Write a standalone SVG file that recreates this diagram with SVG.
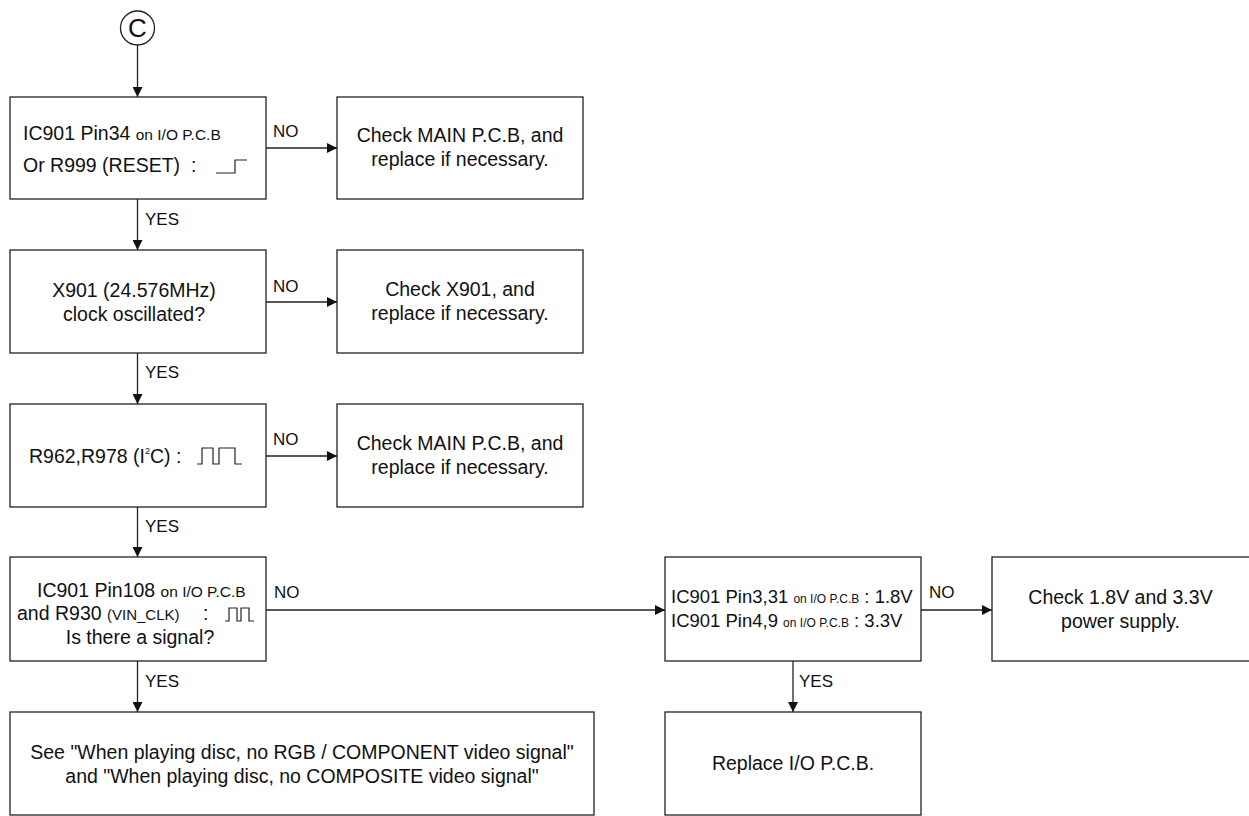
<svg xmlns="http://www.w3.org/2000/svg" width="1249" height="816" viewBox="0 0 1249 816">
<defs>
<marker id="ah" viewBox="0 0 10 10" refX="10" refY="5" markerWidth="10" markerHeight="10" markerUnits="userSpaceOnUse" orient="auto">
<path d="M0,0 L10,5 L0,10 z" fill="#111"/>
</marker>
<style>
.box{fill:#fff;stroke:#222;stroke-width:1.3}
.ln{fill:none;stroke:#222;stroke-width:1.3}
.wf{fill:none;stroke:#222;stroke-width:1.2}
text{font-family:"Liberation Sans",Arial,Helvetica,sans-serif;fill:#111}
.t{font-size:19.5px}
.tm{font-size:19.5px;text-anchor:middle}
.s{font-size:15.5px}
.lab{font-size:17px}
</style>
</defs>
<rect width="1249" height="816" fill="#fff"/>

<g id="start">
<circle cx="137.5" cy="28" r="17" class="ln"/>
<text x="137.5" y="37" font-size="26" text-anchor="middle">C</text>
</g>

<g id="n1">
<rect x="10" y="97" width="256" height="102" class="box"/>
<text x="23" y="140" class="t">IC901 Pin34 <tspan class="s">on I/O P.C.B</tspan></text>
<text x="23" y="172" class="t">Or R999 (RESET) <tspan x="191">:</tspan></text>
<path d="M216 173 H235 V160 H247" class="wf"/>
</g>
<g id="r1">
<rect x="337" y="97" width="246" height="102" class="box"/>
<text x="460" y="142" class="tm">Check MAIN P.C.B, and</text>
<text x="460" y="166" class="tm">replace if necessary.</text>
</g>

<g id="n2">
<rect x="10" y="250" width="256" height="103" class="box"/>
<text x="134" y="297" class="tm">X901 (24.576MHz)</text>
<text x="134" y="321" class="tm">clock oscillated?</text>
</g>
<g id="r2">
<rect x="337" y="250" width="246" height="103" class="box"/>
<text x="460" y="296" class="tm">Check X901, and</text>
<text x="460" y="320" class="tm">replace if necessary.</text>
</g>

<g id="n3">
<rect x="10" y="404" width="256" height="103" class="box"/>
<text x="29" y="463" class="t">R962,R978 (I<tspan font-size="9" dy="-9">2</tspan><tspan dy="9">C) :</tspan></text>
<path d="M197 464 H202 V448 H213 V464 H219 V448 H235 V464 H242" class="wf"/>
</g>
<g id="r3">
<rect x="337" y="404" width="246" height="103" class="box"/>
<text x="460" y="450" class="tm">Check MAIN P.C.B, and</text>
<text x="460" y="474" class="tm">replace if necessary.</text>
</g>

<g id="n4">
<rect x="10" y="557" width="256" height="104" class="box"/>
<text x="37" y="597" class="t">IC901 Pin108 <tspan class="s">on I/O P.C.B</tspan></text>
<text x="17" y="620" class="t">and R930 <tspan font-size="15px">(VIN_CLK)</tspan><tspan x="203">:</tspan></text>
<path d="M225 621 H229 V608 H237 V621 H241 V608 H249 V621 H254" class="wf"/>
<text x="140" y="644" class="tm">Is there a signal?</text>
</g>

<g id="n4a">
<rect x="665" y="557" width="256" height="104" class="box"/>
<text x="671" y="603" font-size="18.5">IC901 Pin3,31 <tspan font-size="12">on I/O P.C.B</tspan> : 1.8V</text>
<text x="671" y="627" font-size="18.5">IC901 Pin4,9 <tspan font-size="12">on I/O P.C.B</tspan> : 3.3V</text>
</g>

<g id="n4b">
<rect x="992" y="557" width="260" height="104" class="box"/>
<text x="1120.5" y="604" class="tm">Check 1.8V and 3.3V</text>
<text x="1120.5" y="628" class="tm">power supply.</text>
</g>

<g id="n5">
<rect x="10" y="712" width="584" height="103" class="box"/>
<text x="302" y="759" class="tm">See "When playing disc, no RGB / COMPONENT video signal"</text>
<text x="302" y="783" class="tm">and "When playing disc, no COMPOSITE video signal"</text>
</g>

<g id="n5b">
<rect x="665" y="712" width="256" height="103" class="box"/>
<text x="793" y="770" class="tm">Replace I/O P.C.B.</text>
</g>

<g id="connectors">
<path d="M137.5 45 V97" class="ln" marker-end="url(#ah)"/>
<path d="M137.5 199 V250" class="ln" marker-end="url(#ah)"/>
<path d="M137.5 353 V404" class="ln" marker-end="url(#ah)"/>
<path d="M137.5 507 V557" class="ln" marker-end="url(#ah)"/>
<path d="M137.5 661 V712" class="ln" marker-end="url(#ah)"/>
<path d="M266 148 H337" class="ln" marker-end="url(#ah)"/>
<path d="M266 302 H337" class="ln" marker-end="url(#ah)"/>
<path d="M266 456 H337" class="ln" marker-end="url(#ah)"/>
<path d="M266 610 H665" class="ln" marker-end="url(#ah)"/>
<path d="M921 610 H992" class="ln" marker-end="url(#ah)"/>
<path d="M793 661 V712" class="ln" marker-end="url(#ah)"/>
<text x="273" y="137" class="lab">NO</text>
<text x="273" y="292" class="lab">NO</text>
<text x="273" y="445" class="lab">NO</text>
<text x="274" y="598" class="lab">NO</text>
<text x="929" y="598" class="lab">NO</text>
<text x="145" y="225" class="lab">YES</text>
<text x="145" y="378" class="lab">YES</text>
<text x="145" y="532" class="lab">YES</text>
<text x="145" y="687" class="lab">YES</text>
<text x="799" y="687" class="lab">YES</text>
</g>
</svg>
